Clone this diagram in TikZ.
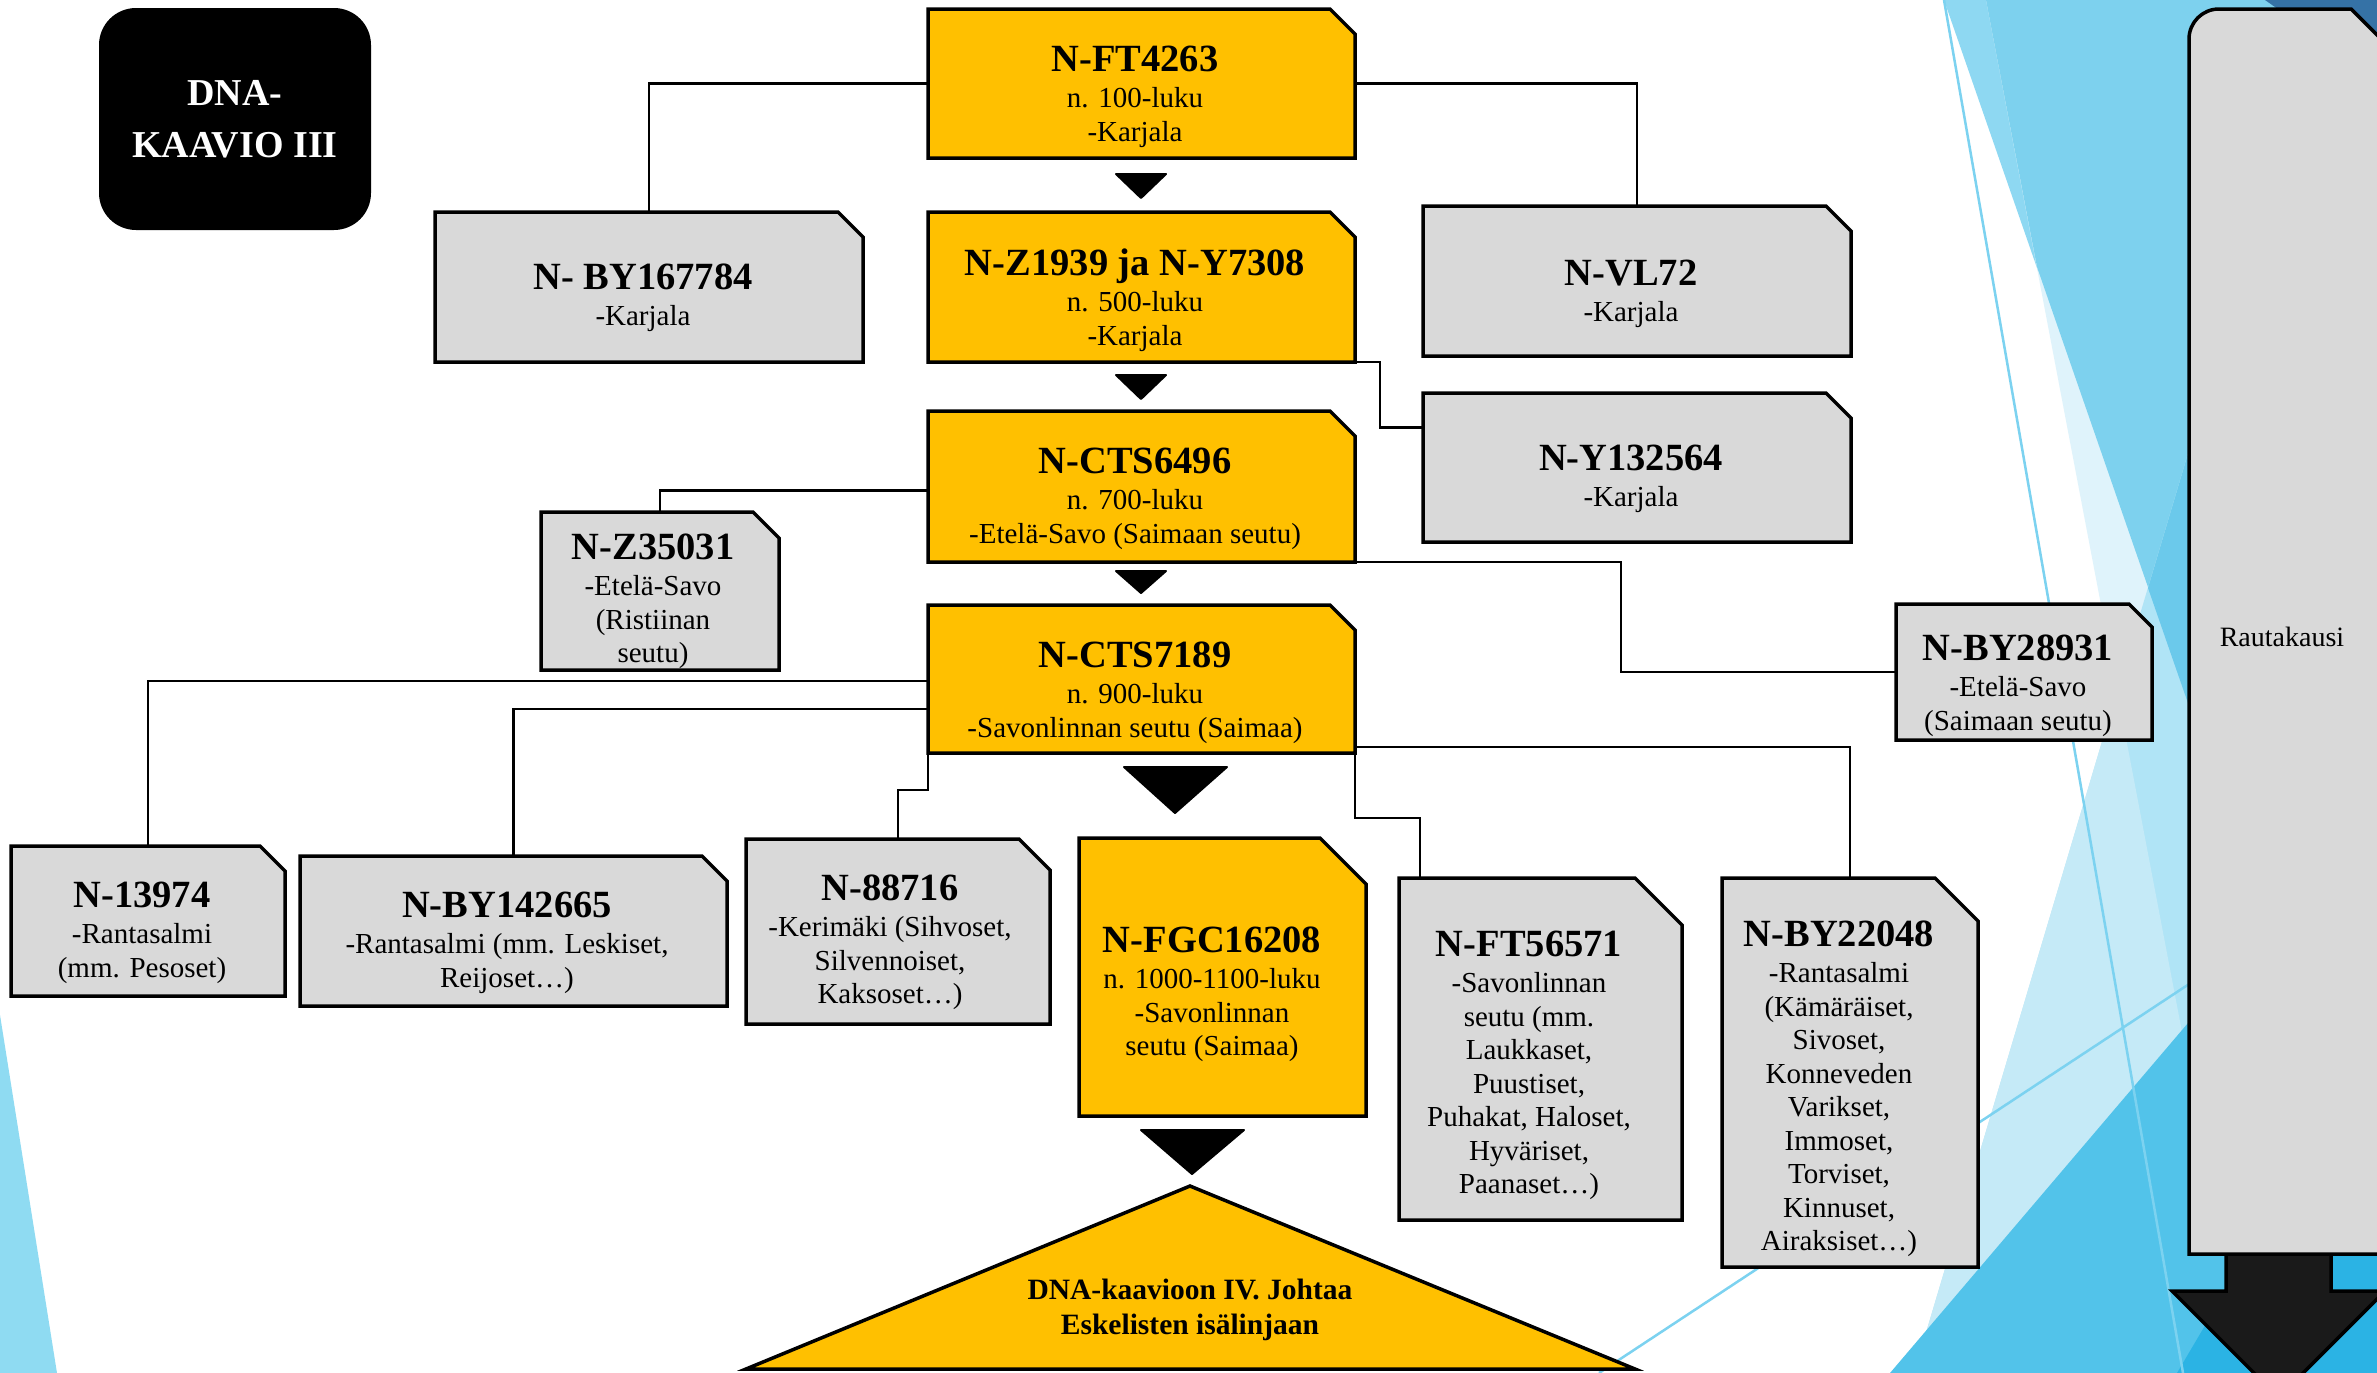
\documentclass[tikz,border=0pt]{standalone}
\usepackage{fontspec}
\setmainfont{Liberation Serif}
\usetikzlibrary{calc}

\definecolor{yel}{HTML}{FFC000}
\definecolor{grayf}{HTML}{D9D9D9}
\definecolor{arrowdark}{HTML}{1A1A1A}
\definecolor{facetA}{HTML}{8ED8F2}
\definecolor{facetB}{HTML}{DFF3FB}
\definecolor{facetAB}{HTML}{7DD1EE}
\definecolor{facetC}{HTML}{B0E4F6}
\definecolor{facetCl}{HTML}{C5EAF7}
\definecolor{facetCA}{HTML}{6BC9EB}
\definecolor{facetD}{HTML}{52C3EA}
\definecolor{facetE}{HTML}{2BB3E4}
\definecolor{facetTop}{HTML}{3572A6}
\definecolor{facetLine}{HTML}{7CD2F0}
\definecolor{facetL}{HTML}{8FDBF2}

\tikzset{
  frame/.style={rectangle, draw=none, inner sep=0pt, outer sep=0pt},
  boxline/.style={draw=black, line width=3.5pt, line join=miter, miter limit=10},
  conn/.style={draw=black, line width=2.5pt},
  txt/.style={align=center, inner sep=0pt, anchor=north, text=black,
              font=\fontsize{29}{33.5}\selectfont},
  arrowtri/.style={fill=black, draw=black, line width=2pt, line join=round},
  dnabox/.style={rectangle, fill=black, rounded corners=37pt, inner sep=0pt,
                 minimum width=272pt, minimum height=222pt, text=white, align=center,
                 font=\fontsize{38}{52}\selectfont\bfseries},
  thinline/.style={draw=facetLine, line width=2.5pt},
}

% bold heading line of a box, followed by a line break
\newcommand\dnattl[1]{{\fontsize{38.5}{33.5}\selectfont\bfseries #1}\\[2.5pt]}
% invisible frame node spanning (x1,y1)-(x2,y2)
\newcommand\dnaframe[5]{\node[frame, minimum width={#4-#2}, minimum height={#5-#3}] (#1) at ({(#2+#4)/2},{(#3+#5)/2}) {};}
% outline of a box with its top right corner cut off
\newcommand\dnasnip[3]{\draw[boxline, fill=#2] (#1.north west) -- ([xshift=-#3pt]#1.north east) -- ([yshift=-#3pt]#1.north east) -- (#1.south east) -- (#1.south west) -- cycle;}

\begin{document}
\begin{tikzpicture}[x=1pt,y=-1pt]
\useasboundingbox (0,0) rectangle (2377,1373);

% ---------- background facets ----------
\begin{scope}
\clip (0,0) rectangle (2377,1373);
\fill[white] (0,0) rectangle (2377,1373);
\fill[facetA] (1944,0) -- (2400,0) -- (2400,1314) -- cycle;
\fill[facetB] (1986,0) -- (2400,0) -- (2400,1373) -- (2247,1373) -- cycle;
\fill[facetAB] (1986,0) -- (2400,0) -- (2400,1314) -- (2037,267) -- cycle;
\fill[facetC] (1914,1373) -- (2323,0) -- (2400,0) -- (2400,1373) -- cycle;
\fill[facetCl] (1914,1373) -- (2117,691) -- (2247,1373) -- cycle;
\fill[facetCA] (2323,0) -- (2400,0) -- (2400,1314) -- (2148,588) -- cycle;
\fill[facetD] (1890,1373) -- (2400,774) -- (2400,1373) -- cycle;
\fill[facetE] (2177,1373) -- (2400,995) -- (2400,1373) -- cycle;
\fill[facetTop] (2265,0) -- (2400,0) -- (2400,95) -- cycle;
\draw[thinline] (1944,0) -- (2183,1373);
\draw[thinline] (1599,1373) -- (2400,845);
\fill[facetL] (0,1015) -- (57,1373) -- (0,1373) -- cycle;

% ---------- Rautakausi arrow ----------
\draw[boxline, fill=arrowdark] (2226,1250) -- (2226,1291) -- (2172,1291) -- (2278.5,1397.5)
  -- (2385,1291) -- (2331,1291) -- (2331,1250) -- cycle;
\draw[boxline, fill=grayf] (2189,1254) -- (2189,39) .. controls (2189,22.4) and (2202.4,9) .. (2219,9)
  -- (2351,9) -- (2400,58) -- (2400,1254) -- cycle;
\end{scope}
\node[inner sep=0pt, font=\fontsize{28}{33}\selectfont] (rauta) at (2282,637) {Rautakausi};

% ---------- title ----------
\node[dnabox] (dna) at (235,119) {DNA-\\KAAVIO III};

% ---------- box frames ----------
\dnaframe{ft}{928}{9}{1355}{158}
\dnaframe{zy}{928}{212}{1355}{362}
\dnaframe{cta}{928}{411}{1355}{562}
\dnaframe{ctb}{928}{605}{1355}{753}
\dnaframe{fgc}{1079}{838}{1366}{1116}
\dnaframe{bya}{435}{212}{863}{362}
\dnaframe{vl}{1423}{206}{1851}{356}
\dnaframe{yk}{1423}{393}{1851}{542}
\dnaframe{zr}{541}{512}{779}{670}
\dnaframe{byb}{1896}{604}{2152}{740}
\dnaframe{nr}{11}{846}{285}{996}
\dnaframe{byc}{300}{856}{727}{1006}
\dnaframe{nk}{746}{839}{1050}{1024}
\dnaframe{fts}{1399}{878}{1682}{1220}
\dnaframe{byd}{1722}{878}{1978}{1267}

% ---------- connectors ----------
\draw[conn] (ft) -| (bya);
\draw[conn] (ft) -| (vl);
\draw[conn] (zy.south east) -- ++(25,0) |- ([yshift=40pt]yk.west);
\draw[conn] ([yshift=-4pt]cta.west) -| (zr);
\draw[conn] (cta.south east) -- ++(266,0) |- (byb);
\draw[conn] ([yshift=-2pt]ctb.west) -| (nr);
\draw[conn] ([yshift=-30pt]ctb.west) -| (byc);
\draw[conn] (ctb.south west) -- ++(0,37) -| (nk);
\draw[conn] ([yshift=-68pt]ctb.east) -| (byd);
\draw[conn] (ctb.south east) -- ++(0,65) -| ([xshift=21pt]fts.north west);

% ---------- boxes ----------
\dnasnip{ft}{yel}{25}
\dnasnip{zy}{yel}{25}
\dnasnip{cta}{yel}{25}
\dnasnip{ctb}{yel}{25}
\dnasnip{fgc}{yel}{46}
\dnasnip{bya}{grayf}{25}
\dnasnip{vl}{grayf}{25}
\dnasnip{yk}{grayf}{25}
\dnasnip{zr}{grayf}{26}
\dnasnip{byb}{grayf}{23}
\dnasnip{nr}{grayf}{25}
\dnasnip{byc}{grayf}{25}
\dnasnip{nk}{grayf}{31}
\dnasnip{fts}{grayf}{47}
\dnasnip{byd}{grayf}{43}

% ---------- down arrows along the main line ----------
\draw[arrowtri] (1116,174) -- (1166,174) -- (1141,198) -- cycle;
\draw[arrowtri] (1116,375) -- (1166,375) -- (1141,399) -- cycle;
\draw[arrowtri] (1116,571) -- (1166,571) -- (1141,593) -- cycle;
\draw[arrowtri] (1124,767) -- (1227,767) -- (1175,813) -- cycle;
\draw[arrowtri] (1141,1130) -- (1244,1130) -- (1192,1174) -- cycle;

% ---------- continuation triangle ----------
\draw[boxline, fill=yel] (746,1369) -- (1635,1369) -- (1190,1186) -- cycle;
\node[txt, font=\fontsize{29.5}{35}\selectfont\bfseries] (tri-t) at (1190,1279)
  {DNA-kaavioon IV. Johtaa\\Eskelisten isälinjaan};

% ---------- box texts ----------
\node[txt] (ft-t) at (1135,46) {\dnattl{N-FT4263}n. 100-luku\\-Karjala};
\node[txt] (zy-t) at (1135,249) {\dnattl{N-Z1939 ja N-Y7308}n. 500-luku\\-Karjala};
\node[txt] (cta-t) at (1135,448) {\dnattl{N-CTS6496}n. 700-luku\\-Etelä-Savo (Saimaan seutu)};
\node[txt] (ctb-t) at (1135,642) {\dnattl{N-CTS7189}n. 900-luku\\-Savonlinnan seutu (Saimaa)};
\node[txt] (fgc-t) at (1212,927) {\dnattl{N-FGC16208}n. 1000-1100-luku\\-Savonlinnan\\seutu (Saimaa)};
\node[txt] (bya-t) at (643,264) {\dnattl{N- BY167784}-Karjala};
\node[txt] (vl-t) at (1631,260) {\dnattl{N-VL72}-Karjala};
\node[txt] (yk-t) at (1631,445) {\dnattl{N-Y132564}-Karjala};
\node[txt] (zr-t) at (653,534) {\dnattl{N-Z35031}-Etelä-Savo\\(Ristiinan\\seutu)};
\node[txt] (byb-t) at (2018,635) {\dnattl{N-BY28931}-Etelä-Savo\\(Saimaan seutu)};
\node[txt] (nr-t) at (142,882) {\dnattl{N-13974}-Rantasalmi\\(mm. Pesoset)};
\node[txt] (byc-t) at (507,892) {\dnattl{N-BY142665}-Rantasalmi (mm. Leskiset,\\Reijoset…)};
\node[txt] (nk-t) at (890,875) {\dnattl{N-88716}-Kerimäki (Sihvoset,\\Silvennoiset,\\Kaksoset…)};
\node[txt] (fts-t) at (1529,931) {\dnattl{N-FT56571}-Savonlinnan\\seutu (mm.\\Laukkaset,\\Puustiset,\\Puhakat, Haloset,\\Hyväriset,\\Paanaset…)};
\node[txt] (byd-t) at (1839,921) {\dnattl{N-BY22048}-Rantasalmi\\(Kämäräiset,\\Sivoset,\\Konneveden\\Varikset,\\Immoset,\\Torviset,\\Kinnuset,\\Airaksiset…)};
\end{tikzpicture}
\end{document}
